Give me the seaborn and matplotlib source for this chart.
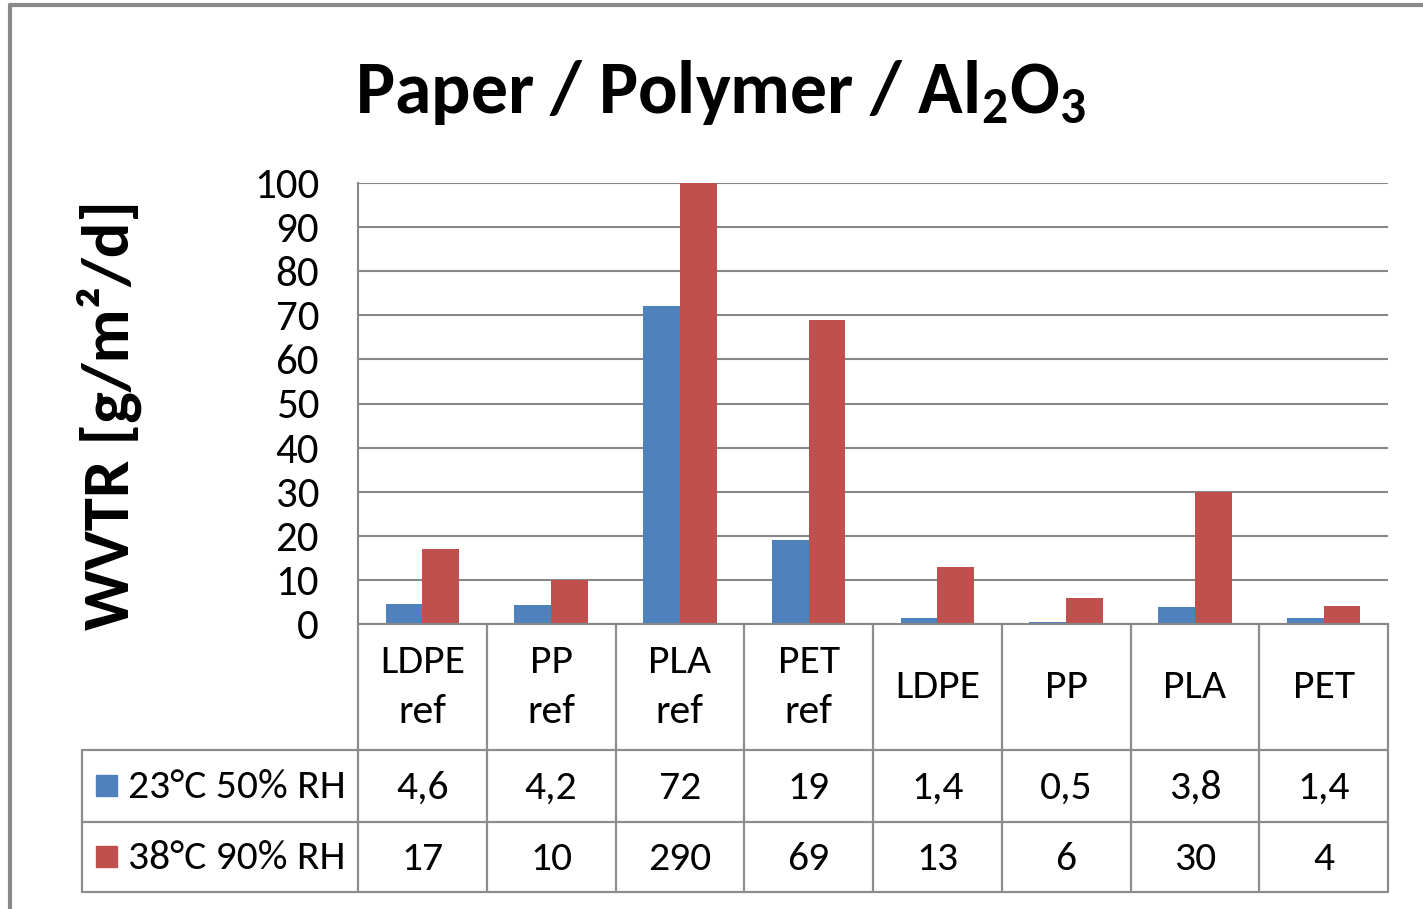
import matplotlib
matplotlib.use("Agg")
import matplotlib.pyplot as plt
from matplotlib import font_manager
import seaborn as sns
import pandas as pd

# ---- data ----
categories = ["LDPE\nref", "PP\nref", "PLA\nref", "PET\nref", "LDPE", "PP", "PLA", "PET"]
series_names = ["23°C 50% RH", "38°C 90% RH"]
wvtr_23_50 = [4.6, 4.2, 72, 19, 1.4, 0.5, 3.8, 1.4]
wvtr_38_90 = [17, 10, 290, 69, 13, 6, 30, 4]
y_ticks = [0, 10, 20, 30, 40, 50, 60, 70, 80, 90, 100]

BLUE = "#4F81BD"
RED = "#C0504D"
GRID = "#878787"

sns.set_theme(style="white")
avail = {f.name for f in font_manager.fontManager.ttflist}
FONT = next((f for f in ["Carlito", "Liberation Sans Narrow", "Liberation Sans"] if f in avail), "DejaVu Sans")
plt.rcParams["font.family"] = [FONT, "DejaVu Sans"]
plt.rcParams["mathtext.fontset"] = "custom"
plt.rcParams["mathtext.rm"] = FONT + ":bold"
plt.rcParams["mathtext.bf"] = FONT + ":bold"
plt.rcParams["mathtext.default"] = "bf"

W, H = 1423, 909
fig = plt.figure(figsize=(W / 100, H / 100), dpi=100)

# pixel helper axes for table and decorations
bg = fig.add_axes([0, 0, 1, 1])
bg.set_xlim(0, W)
bg.set_ylim(H, 0)
bg.axis("off")

# plot area
L, R, T, B = 358, 1388, 183, 624
ax = fig.add_axes([L / W, 1 - B / H, (R - L) / W, (B - T) / H])

df = pd.DataFrame({
    "cat": categories * 2,
    "series": [series_names[0]] * len(categories) + [series_names[1]] * len(categories),
    "val": wvtr_23_50 + wvtr_38_90,
})
sns.barplot(data=df, x="cat", y="val", hue="series", order=categories,
            hue_order=series_names, palette=[BLUE, RED], saturation=1,
            width=0.57, dodge=True, ax=ax, legend=False, errorbar=None,
            linewidth=0)
ax.set_ylim(0, 100)
ax.set_xlim(-0.5, len(categories) - 0.5)
ax.set_yticks(y_ticks)
ax.set_yticklabels([str(t) for t in y_ticks])
ax.yaxis.grid(True, color=GRID, linewidth=1.5)
ax.set_axisbelow(True)
ax.set_xticks([])
ax.set_xlabel("")
ax.set_ylabel("")
ax.tick_params(axis="y", length=0, pad=28, labelsize=31, labelcolor="#000000")
for s in ["top", "right"]:
    ax.spines[s].set_visible(False)
for s in ["left", "bottom"]:
    ax.spines[s].set_color(GRID)
    ax.spines[s].set_linewidth(1.5)

# ---- data table ----
TL = 82
row_tops = [624, 750, 822, 892]
col_w = (R - L) / len(categories)
lc = "#8c8c8c"
lw = 1.6
for i in range(len(categories) + 1):
    x = L + i * col_w
    bg.plot([x, x], [row_tops[0], row_tops[3]], color=lc, lw=lw)
bg.plot([TL, TL], [row_tops[1], row_tops[3]], color=lc, lw=lw)
for y in row_tops[1:]:
    bg.plot([TL, R], [y, y], color=lc, lw=lw)

FS = 30
fmt = lambda v: f"{v:g}".replace(".", ",")
for i, cat in enumerate(categories):
    cx = L + (i + 0.5) * col_w
    bg.text(cx, (row_tops[0] + row_tops[1]) / 2, cat, ha="center", va="center",
            fontsize=FS, linespacing=1.45, color="#000000")
    bg.text(cx, (row_tops[1] + row_tops[2]) / 2 + 2, fmt(wvtr_23_50[i]), ha="center",
            va="center", fontsize=FS, color="#000000")
    bg.text(cx, (row_tops[2] + row_tops[3]) / 2 + 2, fmt(wvtr_38_90[i]), ha="center",
            va="center", fontsize=FS, color="#000000")

for j, (name, col) in enumerate(zip(series_names, [BLUE, RED])):
    cy = (row_tops[1 + j] + row_tops[2 + j]) / 2
    bg.add_patch(plt.Rectangle((96, cy - 11), 21, 21, color=col))
    bg.text(128, cy + 1, name, ha="left", va="center", fontsize=FS, color="#000000")

# title and y label
bg.text(721, 113, "Paper / Polymer / Al$_2$O$_3$", ha="center", va="baseline",
        fontsize=53, fontweight="bold", color="#000000")
bg.text(109, 415, "WVTR [g/m²/d]", ha="center", va="center", rotation=90,
        fontsize=48, fontweight="bold", color="#000000")

# chart area border (partially visible)
bg.plot([10, W], [5, 5], color="#8a8a8a", lw=3)
bg.plot([10, 10], [5, H], color="#8a8a8a", lw=3)

fig.savefig("out.png", dpi=100)
